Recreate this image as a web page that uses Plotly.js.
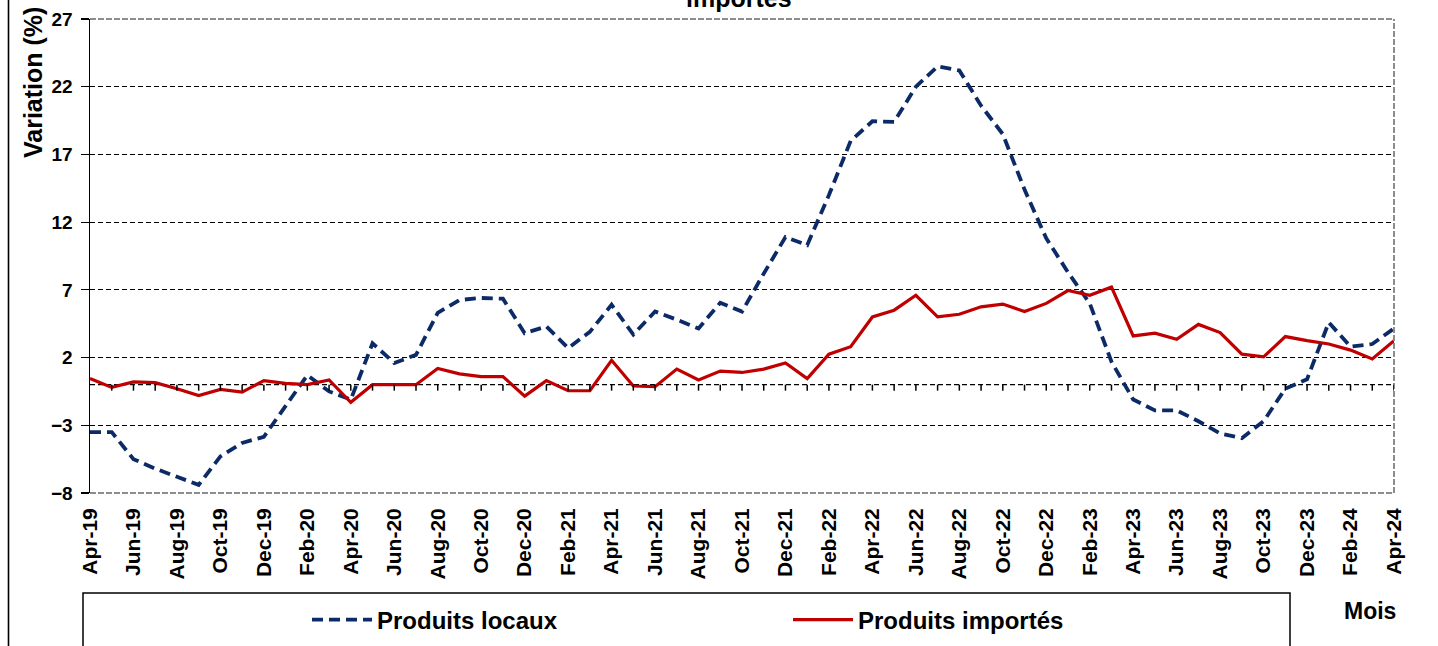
<!DOCTYPE html>
<html>
<head>
<meta charset="utf-8">
<script src="https://cdn.plot.ly/plotly-3.0.1.min.js"></script>
<style>html,body{margin:0;padding:0;background:#fff;}#chart{width:1438px;height:646px;}</style>
</head>
<body>
<div id="chart"></div>
<script>
const months = ['Apr-19','May-19','Jun-19','Jul-19','Aug-19','Sep-19','Oct-19','Nov-19','Dec-19','Jan-20','Feb-20','Mar-20','Apr-20','May-20','Jun-20','Jul-20','Aug-20','Sep-20','Oct-20','Nov-20','Dec-20','Jan-21','Feb-21','Mar-21','Apr-21','May-21','Jun-21','Jul-21','Aug-21','Sep-21','Oct-21','Nov-21','Dec-21','Jan-22','Feb-22','Mar-22','Apr-22','May-22','Jun-22','Jul-22','Aug-22','Sep-22','Oct-22','Nov-22','Dec-22','Jan-23','Feb-23','Mar-23','Apr-23','May-23','Jun-23','Jul-23','Aug-23','Sep-23','Oct-23','Nov-23','Dec-23','Jan-24','Feb-24','Mar-24','Apr-24'];

const produitsLocaux = [-3.5,-3.5,-5.5,-6.2,-6.8,-7.4,-5.3,-4.3,-3.85,-1.6,0.7,-0.5,-1.1,3.05,1.6,2.2,5.3,6.25,6.4,6.35,3.8,4.3,2.7,3.9,5.9,3.7,5.4,4.8,4.15,6.05,5.4,8.2,10.9,10.3,14.0,18.0,19.45,19.4,22.0,23.5,23.2,20.6,18.5,14.4,10.8,8.3,6.0,1.7,-1.1,-1.9,-1.9,-2.7,-3.6,-3.95,-2.7,-0.3,0.4,4.6,2.8,3.0,4.15];

const produitsImportes = [0.45,-0.2,0.2,0.15,-0.3,-0.8,-0.35,-0.55,0.3,0.1,0.0,0.35,-1.3,0.0,0.0,0.0,1.2,0.8,0.6,0.6,-0.85,0.3,-0.45,-0.45,1.8,-0.1,-0.15,1.15,0.35,1.0,0.9,1.15,1.6,0.45,2.25,2.8,5.0,5.5,6.6,5.0,5.2,5.75,5.95,5.4,6.0,6.95,6.6,7.2,3.6,3.8,3.35,4.45,3.85,2.25,2.05,3.55,3.25,3.0,2.55,1.9,3.25];

const xTickLabels = ['Apr-19','Jun-19','Aug-19','Oct-19','Dec-19','Feb-20','Apr-20','Jun-20','Aug-20','Oct-20','Dec-20','Feb-21','Apr-21','Jun-21','Aug-21','Oct-21','Dec-21','Feb-22','Apr-22','Jun-22','Aug-22','Oct-22','Dec-22','Feb-23','Apr-23','Jun-23','Aug-23','Oct-23','Dec-23','Feb-24','Apr-24'];

const yTicks = [-8,-3,2,7,12,17,22,27];
const seriesNames = ['Produits locaux','Produits importés'];
const titleText = 'importés';
const yTitle = 'Variation (%)';
const xTitle = 'Mois';

const FONT = 'Liberation Sans, Arial, sans-serif';
const yMin = yTicks[0], yMax = yTicks[yTicks.length-1];
const W = 1438, H = 646;
const mL = 90, mR = 44, mT = 19, mB = 153;
const pw = W - mL - mR, ph = H - mT - mB;
const px = v => (v - mL) / pw;          // page px -> paper x
const py = v => (H - mB - v) / ph;      // page px -> paper y
const zeroPos = (0 - yMin) / (yMax - yMin); // paper y of the zero line

const traces = [
  {x: months, y: produitsLocaux, name: seriesNames[0], type: 'scatter', mode: 'lines',
   line: {color: '#0c2b66', width: 3.8, dash: '11px,6px'}},
  {x: months, y: produitsImportes, name: seriesNames[1], type: 'scatter', mode: 'lines',
   line: {color: '#c00000', width: 3.2}}
];

const shapes = [
  // zero line (dashed) acting as the category axis line
  {type:'line', xref:'paper', yref:'y', x0:0, x1:1, y0:0, y1:0, line:{color:'#000', width:1.3, dash:'5px,3px'}, layer:'below'},
  // white underlays for border
  {type:'line', xref:'paper', yref:'paper', x0:0, x1:1, y0:1, y1:1, line:{color:'#fff', width:3}},
  {type:'line', xref:'paper', yref:'paper', x0:0, x1:1, y0:0, y1:0, line:{color:'#fff', width:3}},
  // gray dashed plot border (top, bottom, right)
  {type:'line', xref:'paper', yref:'paper', x0:0, x1:1, y0:1, y1:1, line:{color:'#8c8c8c', width:2, dash:'6px,2px'}},
  {type:'line', xref:'paper', yref:'paper', x0:0, x1:1, y0:0, y1:0, line:{color:'#8c8c8c', width:2, dash:'6px,2px'}},
  {type:'line', xref:'paper', yref:'paper', x0:1, x1:1, y0:0, y1:1, line:{color:'#8c8c8c', width:2, dash:'6px,2px'}},
  // legend box
  {type:'rect', xref:'paper', yref:'paper', x0:px(83), x1:px(1290), y0:py(593), y1:py(670), line:{color:'#000', width:1.5}, fillcolor:'rgba(0,0,0,0)'},
  // page left border
  {type:'line', xref:'paper', yref:'paper', x0:px(8.5), x1:px(8.5), y0:py(-10), y1:py(660), line:{color:'#000', width:1.6}}
];
// monthly tick marks hanging below the zero line (category index positions)
months.forEach((m, i) => {
  if (i === 0) return;
  shapes.push({type:'line', xref:'x', yref:'paper', x0:i, x1:i, y0:zeroPos, y1:zeroPos - 6/ph,
               line:{color:'#000', width:1.5}});
});

const annotations = [
  {text: titleText, xref:'paper', yref:'paper', x: px(739), y: 1, xanchor:'center', yanchor:'bottom', yshift: 5,
   showarrow:false, font:{family:FONT, size:25, color:'#000', weight:700}},
  {text: yTitle, xref:'paper', yref:'paper', x: px(33), y: py(83), xanchor:'center', yanchor:'middle', textangle:-90,
   showarrow:false, font:{family:FONT, size:25, color:'#000', weight:700}},
  {text: xTitle, xref:'paper', yref:'paper', x: px(1370), y: py(611), xanchor:'center', yanchor:'middle',
   showarrow:false, font:{family:FONT, size:23, color:'#000', weight:700}}
];

const layout = {
  width: W, height: H,
  margin: {l: mL, r: mR, t: mT, b: mB, pad: 0},
  paper_bgcolor: '#fff', plot_bgcolor: '#fff',
  font: {family: FONT, color: '#000'},
  showlegend: true,
  legend: {orientation:'h', xref:'container', yref:'container', x: 307/W, y: 1 - 620/H, xanchor:'left', yanchor:'middle',
           font:{family:FONT, size:24, color:'#000', weight:700}, entrywidth: 406, itemwidth: 60,
           bgcolor:'rgba(0,0,0,0)', borderwidth:0},
  xaxis: {type:'category', range:[0, months.length-1], tickvals: xTickLabels, ticktext: xTickLabels,
          tickangle:-90, ticks:'', ticklabelstandoff: 10, showgrid:false, zeroline:false, showline:false,
          automargin:false, tickfont:{family:FONT, size:21, color:'#000', weight:700}, fixedrange:true},
  yaxis: {range:[yMin, yMax], tickvals: yTicks, ticks:'outside', ticklen:8, tickwidth:1.2, tickcolor:'#000',
          showline:true, linecolor:'#000', linewidth:1.5, showgrid:true, gridcolor:'#000', gridwidth:1.1,
          griddash:'5px,3px', zeroline:false, ticklabelstandoff: 4, automargin:false,
          tickfont:{family:FONT, size:19, color:'#000', weight:700}, fixedrange:true},
  shapes: shapes,
  annotations: annotations
};

Plotly.newPlot('chart', traces, layout, {displayModeBar:false, staticPlot:true});
</script>
</body>
</html>
